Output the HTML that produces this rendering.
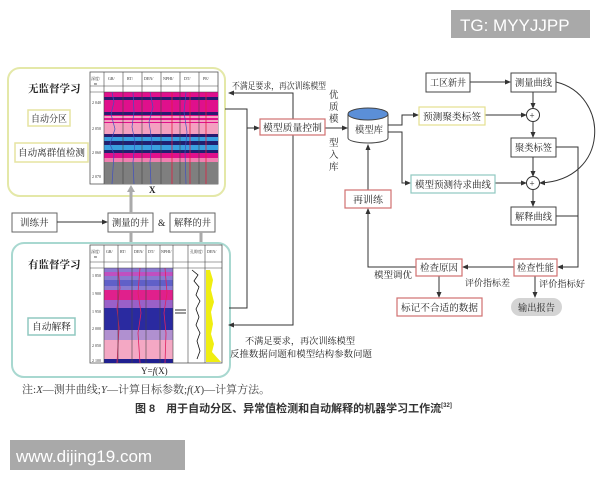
<!DOCTYPE html>
<html><head><meta charset="utf-8"><style>
html,body{margin:0;padding:0;background:#fff;}
svg text{font-family:"Liberation Serif","Noto Serif CJK SC",serif;}
</style></head><body>
<svg width="600" height="480" viewBox="0 0 600 480" xmlns="http://www.w3.org/2000/svg">
<defs>
<marker id="a" markerWidth="6" markerHeight="6" refX="5" refY="3" orient="auto"><path d="M0,0.5 L6,3 L0,5.5z" fill="#333"/></marker>
</defs>
<rect width="600" height="480" fill="#fff"/>
<rect x="451" y="10" width="139" height="28" fill="#a9a9a9"/>
<text x="460" y="31" font-size="17" fill="#fff" style="font-family:'Liberation Sans',sans-serif">TG: MYYJJPP</text>
<rect x="10" y="440" width="175" height="30" fill="#a9a9a9"/>
<text x="16" y="462" font-size="17" fill="#fff" style="font-family:'Liberation Sans',sans-serif">www.dijing19.com</text>

<g font-size="9.5" fill="#222">
<rect x="8" y="68" width="217" height="128" rx="12" fill="#fff" stroke="#e4e8a8" stroke-width="2"/>
<text x="28" y="92" font-weight="bold" font-size="10.5">无监督学习</text>
<rect x="28" y="110" width="42" height="16" fill="#fff" stroke="#e6e4a0" stroke-width="1.5"/>
<text x="31" y="122" textLength="36" lengthAdjust="spacingAndGlyphs">自动分区</text>
<rect x="15" y="143" width="73" height="19" fill="#fff" stroke="#e6e4a0" stroke-width="1.5"/>
<text x="18" y="156" textLength="67" lengthAdjust="spacingAndGlyphs">自动离群值检测</text>
<g>
<rect x="90" y="72" width="128" height="112" fill="#fff" stroke="#555" stroke-width="0.8"/>
<rect x="104" y="92" width="114" height="92" fill="#e0108c"/>
<rect x="104" y="97" width="114" height="3" fill="#2a1a70"/>
<rect x="104" y="112" width="114" height="3" fill="#2a1a70"/>
<rect x="104" y="116" width="114" height="2" fill="#f4a0c0"/>
<rect x="104" y="120" width="114" height="2" fill="#f4a0c0"/>
<rect x="104" y="123" width="114" height="11" fill="#f4a0c0"/>
<rect x="104" y="134" width="114" height="3" fill="#2a1a70"/>
<rect x="104" y="137" width="114" height="4" fill="#3aa0e0"/>
<rect x="104" y="141" width="114" height="4" fill="#202070"/>
<rect x="104" y="145" width="114" height="5" fill="#3aa0e0"/>
<rect x="104" y="150" width="114" height="3" fill="#202070"/>
<rect x="104" y="158" width="114" height="4" fill="#f080b0"/>
<rect x="104" y="162" width="114" height="22" fill="#7f7f7f"/>
<g stroke="#444" stroke-width="0.6">
<line x1="104" y1="72" x2="104" y2="184"/><line x1="123" y1="72" x2="123" y2="184"/><line x1="142" y1="72" x2="142" y2="184"/><line x1="161" y1="72" x2="161" y2="184"/><line x1="180" y1="72" x2="180" y2="184"/><line x1="199" y1="72" x2="199" y2="184"/>
<line x1="90" y1="86" x2="218" y2="86"/><line x1="90" y1="92" x2="218" y2="92"/>
</g>
<g stroke="#e02040" stroke-width="0.8" fill="none"><line x1="190" y1="92" x2="190" y2="184"/><line x1="206" y1="92" x2="206" y2="184"/><line x1="172" y1="92" x2="172" y2="184"/></g>
<g stroke="#4050c0" stroke-width="0.7" fill="none"><path d="M112,92 l2,10 -3,12 4,15 -5,15 4,10 -2,30"/><path d="M133,92 l1,20 -2,15 3,15 -2,20 1,22"/><path d="M150,92 l3,15 -4,15 3,20 -2,20 1,22"/><path d="M186,92 l-2,20 3,20 -2,20 1,32"/></g>
<g font-size="4" fill="#333"><text x="91" y="80">深度/</text><text x="94" y="85">m</text><text x="108" y="80">GR/</text><text x="127" y="80">RT/</text><text x="144" y="80">DEN/</text><text x="163" y="80">NPHI/</text><text x="184" y="80">DT/</text><text x="203" y="80">PE/</text>
<text x="92" y="104">2 040</text><text x="92" y="130">2 050</text><text x="92" y="154">2 060</text><text x="92" y="178">2 070</text></g>
</g>
<text x="149" y="193" font-weight="bold" font-size="9">X</text>

<rect x="12" y="213" width="45" height="19" fill="#fff" stroke="#666"/>
<text x="20" y="226">训练井</text>
<line x1="57" y1="222" x2="107" y2="222" stroke="#333" marker-end="url(#a)"/>
<rect x="108" y="213" width="45" height="19" fill="#fff" stroke="#666"/>
<text x="112" y="226" textLength="37" lengthAdjust="spacingAndGlyphs">测量的井</text>
<text x="158" y="226">&amp;</text>
<rect x="170" y="213" width="45" height="19" fill="#fff" stroke="#666"/>
<text x="174" y="226" textLength="37" lengthAdjust="spacingAndGlyphs">解释的井</text>
<g stroke="#aaa" stroke-width="3"><line x1="131" y1="213" x2="131" y2="190"/><line x1="131" y1="232" x2="131" y2="246"/><line x1="201" y1="232" x2="201" y2="246"/></g>
<path d="M127,192 L131,185 L135,192z" fill="#aaa"/>

<rect x="12" y="243" width="218" height="134" rx="12" fill="#fff" stroke="#a8d8d0" stroke-width="2"/>
<text x="28" y="268" font-weight="bold" font-size="10.5">有监督学习</text>
<rect x="28" y="318" width="47" height="17" fill="#fff" stroke="#90c8c0" stroke-width="1.5"/>
<text x="32" y="330" textLength="39" lengthAdjust="spacingAndGlyphs">自动解释</text>
<g>
<rect x="90" y="245" width="132" height="118" fill="#fff" stroke="#555" stroke-width="0.8"/>
<rect x="104" y="268" width="69" height="95" fill="#8a7ad0"/>
<rect x="104" y="272" width="69" height="4" fill="#c050c0"/>
<rect x="104" y="280" width="69" height="6" fill="#6060c8"/>
<rect x="104" y="290" width="69" height="10" fill="#e0208c"/>
<rect x="104" y="300" width="69" height="8" fill="#9a60c8"/>
<rect x="104" y="308" width="69" height="22" fill="#2a2aa0"/>
<rect x="104" y="330" width="69" height="10" fill="#b090d0"/>
<rect x="104" y="340" width="69" height="20" fill="#f4a8c4"/>
<rect x="104" y="359" width="69" height="4" fill="#202090"/>
<g stroke="#e02060" stroke-width="0.8" fill="none"><path d="M118,268 l2,20 -3,20 2,20 -2,35"/><path d="M140,268 l-2,25 3,20 -3,20 2,30"/><path d="M165,268 l2,25 -3,20 2,20 -1,30"/></g>
<g stroke="#444" stroke-width="0.6">
<line x1="104" y1="245" x2="104" y2="363"/><line x1="118" y1="245" x2="118" y2="363"/><line x1="132" y1="245" x2="132" y2="363"/><line x1="146" y1="245" x2="146" y2="363"/><line x1="160" y1="245" x2="160" y2="363"/><line x1="173" y1="245" x2="173" y2="363"/><line x1="188" y1="245" x2="188" y2="363"/><line x1="205" y1="245" x2="205" y2="363"/>
<line x1="90" y1="262" x2="222" y2="262"/><line x1="90" y1="268" x2="222" y2="268"/>
</g>
<rect x="206" y="270" width="15" height="92" fill="#f0ee10"/>
<path d="M210,270 l3,10 -2,10 3,12 -3,10 2,12 -2,10 3,10 -2,8 L221,362 L221,270z" fill="#fff"/>
<path d="M192,270 l6,5 -4,6 5,6 -3,8 4,6 -4,8 3,8 -3,8 4,8 -3,8 3,10 -3,8" stroke="#111" fill="none" stroke-width="0.8"/>
<g stroke="#333" stroke-width="1"><line x1="175" y1="310" x2="186" y2="310"/><line x1="175" y1="313" x2="186" y2="313"/></g>
<g font-size="4" fill="#333"><text x="91" y="253">深度/</text><text x="94" y="258">m</text><text x="106" y="253">GR/</text><text x="120" y="253">RT/</text><text x="134" y="253">DEN/</text><text x="148" y="253">DT/</text><text x="161" y="253">NPHI/</text><text x="190" y="253">孔隙度/</text><text x="207" y="253">DEN/</text>
<text x="92" y="277">1 850</text><text x="92" y="295">1 900</text><text x="92" y="313">1 950</text><text x="92" y="330">2 000</text><text x="92" y="347">2 050</text><text x="92" y="362">2 100</text></g>
</g>
<text x="141" y="374" font-size="9">Y=<tspan font-style="italic">f</tspan>(X)</text>

<g stroke="#333" stroke-width="1" fill="none">
<polyline points="225,109 247,109 247,308 229,308"/>
<line x1="247" y1="128" x2="259" y2="128" marker-end="url(#a)"/>
<polyline points="293,119 293,93 229,93" marker-end="url(#a)"/>
<polyline points="293,133 293,325 229,325" marker-end="url(#a)"/>
<line x1="325" y1="128" x2="347" y2="128" marker-end="url(#a)"/>
</g>
<text x="232" y="89" font-size="9" textLength="94" lengthAdjust="spacingAndGlyphs">不满足要求，再次训练模型</text>
<rect x="260" y="119" width="65" height="16" fill="#fff" stroke="#d07070" stroke-width="1.2"/>
<text x="263" y="131" textLength="59" lengthAdjust="spacingAndGlyphs">模型质量控制</text>
<g font-size="9.5"><text x="329" y="98">优</text><text x="329" y="110">质</text><text x="329" y="122">模</text><text x="329" y="146">型</text><text x="329" y="158">入</text><text x="329" y="170">库</text></g>
<text x="245" y="344" font-size="9" textLength="110" lengthAdjust="spacingAndGlyphs">不满足要求，再次训练模型</text>
<text x="230" y="357" font-size="9" textLength="142" lengthAdjust="spacingAndGlyphs">反推数据问题和模型结构参数问题</text>

<path d="M348,114 L348,138 A20,5 0 0 0 388,138 L388,114" fill="#fff" stroke="#444"/>
<ellipse cx="368" cy="114" rx="20" ry="6" fill="#5b8fd8" stroke="#444"/>
<text x="355" y="133" textLength="28" lengthAdjust="spacingAndGlyphs">模型库</text>

<g stroke="#333" stroke-width="1" fill="none">
<line x1="470" y1="82" x2="510" y2="82" marker-end="url(#a)"/>
<polyline points="388,125 402,125 402,115 418,115" marker-end="url(#a)"/>
<line x1="485" y1="115" x2="526" y2="115" marker-end="url(#a)"/>
<line x1="533" y1="92" x2="533" y2="108" marker-end="url(#a)"/>
<line x1="533" y1="122" x2="533" y2="137" marker-end="url(#a)"/>
<polyline points="388,132 402,132 402,183 410,183" marker-end="url(#a)"/>
<line x1="495" y1="183" x2="526" y2="183" marker-end="url(#a)"/>
<line x1="533" y1="157" x2="533" y2="176" marker-end="url(#a)"/>
<line x1="533" y1="190" x2="533" y2="206" marker-end="url(#a)"/>
<path d="M556,82 C610,95 610,180 540,183" marker-end="url(#a)"/>
<polyline points="556,147 578,147 578,267 558,267" marker-end="url(#a)"/>
<line x1="556" y1="216" x2="578" y2="216"/>
<line x1="514" y1="267" x2="463" y2="267" marker-end="url(#a)"/>
<line x1="439" y1="276" x2="439" y2="297" marker-end="url(#a)"/>
<polyline points="416,267 368,267 368,209" marker-end="url(#a)"/>
<line x1="368" y1="190" x2="368" y2="145" marker-end="url(#a)"/>
<line x1="535" y1="276" x2="535" y2="297" marker-end="url(#a)"/>
</g>
<g fill="#fff" stroke="#333"><circle cx="533" cy="115" r="6.5"/><circle cx="533" cy="183" r="6.5"/></g>
<text x="529.5" y="118.5" font-size="9">+</text><text x="529.5" y="186.5" font-size="9">+</text>
<rect x="426" y="73" width="44" height="19" fill="#fff" stroke="#444"/><text x="430" y="86" textLength="36" lengthAdjust="spacingAndGlyphs">工区新井</text>
<rect x="511" y="73" width="45" height="19" fill="#fff" stroke="#444"/><text x="515" y="86" textLength="37" lengthAdjust="spacingAndGlyphs">测量曲线</text>
<rect x="419" y="107" width="66" height="18" fill="#fff" stroke="#e4e090" stroke-width="1.2"/><text x="423" y="120" textLength="58" lengthAdjust="spacingAndGlyphs">预测聚类标签</text>
<rect x="511" y="138" width="45" height="19" fill="#fff" stroke="#444"/><text x="515" y="151" textLength="37" lengthAdjust="spacingAndGlyphs">聚类标签</text>
<rect x="411" y="175" width="84" height="18" fill="#fff" stroke="#90c8c0" stroke-width="1.2"/><text x="415" y="188" textLength="76" lengthAdjust="spacingAndGlyphs">模型预测待求曲线</text>
<rect x="511" y="207" width="45" height="18" fill="#fff" stroke="#444"/><text x="515" y="220" textLength="37" lengthAdjust="spacingAndGlyphs">解释曲线</text>
<rect x="345" y="190" width="46" height="18" fill="#fff" stroke="#d07070" stroke-width="1.2"/><text x="353" y="203" textLength="30" lengthAdjust="spacingAndGlyphs">再训练</text>
<rect x="514" y="259" width="43" height="17" fill="#fff" stroke="#d07070" stroke-width="1.2"/><text x="517" y="271" textLength="37" lengthAdjust="spacingAndGlyphs">检查性能</text>
<rect x="416" y="259" width="46" height="17" fill="#fff" stroke="#d07070" stroke-width="1.2"/><text x="420" y="271" textLength="38" lengthAdjust="spacingAndGlyphs">检查原因</text>
<text x="465" y="286" font-size="9" textLength="45" lengthAdjust="spacingAndGlyphs">评价指标差</text>
<text x="374" y="278" font-size="9" textLength="38" lengthAdjust="spacingAndGlyphs">模型调优</text>
<rect x="397" y="298" width="85" height="18" fill="#fff" stroke="#d07070" stroke-width="1.2"/><text x="401" y="311" textLength="77" lengthAdjust="spacingAndGlyphs">标记不合适的数据</text>
<text x="539" y="287" font-size="9" textLength="46" lengthAdjust="spacingAndGlyphs">评价指标好</text>
<rect x="511" y="298" width="51" height="18" rx="9" fill="#d4d4d4"/><text x="518" y="311" textLength="37" lengthAdjust="spacingAndGlyphs">输出报告</text>

<text x="22" y="393" font-size="11" fill="#444">注:<tspan font-style="italic">X</tspan>—测井曲线;<tspan font-style="italic">Y</tspan>—计算目标参数;<tspan font-style="italic">f</tspan>(<tspan font-style="italic">X</tspan>)—计算方法。</text>
<text x="135" y="412" font-size="11" font-weight="bold" fill="#333" style="font-family:'Liberation Sans','Noto Sans CJK SC',sans-serif">图 8　用于自动分区、异常值检测和自动解释的机器学习工作流<tspan font-size="6" dy="-5">[32]</tspan></text>
</g>
</svg>
</body></html>
